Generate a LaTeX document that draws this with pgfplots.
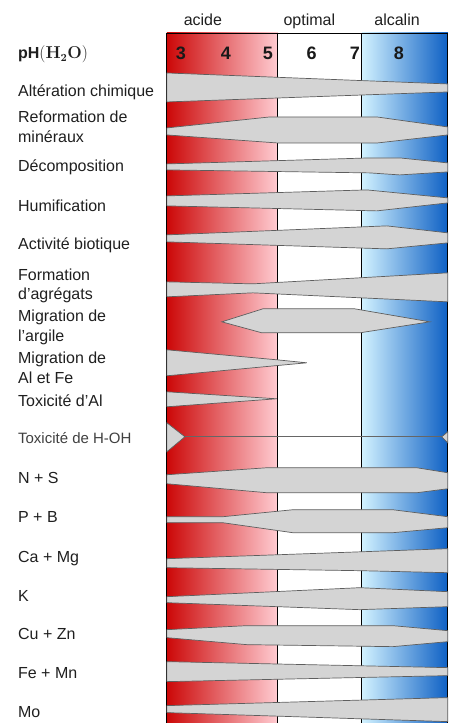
\documentclass[border=0pt]{standalone}
\usepackage{pgfplots}
\pgfplotsset{compat=1.18}
\usepackage[no-math]{fontspec}
\setmainfont{Liberation Sans}

\definecolor{acidedark}{HTML}{CC0808}
\definecolor{acidemid}{HTML}{FF5252}
\definecolor{acidelight}{HTML}{FFCCD2}
\definecolor{alcalight}{HTML}{D2F2FF}
\definecolor{alcamid}{HTML}{3CB8FF}
\definecolor{alcadark}{HTML}{0E60C4}
\definecolor{bande}{HTML}{D4D4D4}
\definecolor{bord}{HTML}{5E5E5E}

\begin{document}
\begin{tikzpicture}[
  lab/.style={font=\fontsize{16bp}{19bp}\selectfont, text=black!88, inner sep=0pt, anchor=base west},
  tete/.style={font=\fontsize{16bp}{19bp}\selectfont, text=black!88, inner sep=0pt, anchor=base},
  chiffre/.style={font=\fontsize{18bp}{20bp}\selectfont\bfseries, text=black!90, inner sep=0pt, anchor=base},
]
\begin{axis}[
  scale only axis,
  width=281bp, height=690bp,
  xmin=2.679, xmax=9.124,
  ymin=33, ymax=723,
  y dir=reverse,
  hide axis,
  clip=false,
  every axis plot/.append style={forget plot},
  bandes/.style={fill=bande, draw=bord, line width=0.7bp, mark=none},
  trait/.style={draw=black, fill=none, line width=0.8bp, mark=none},
]
% zones de pH (fond)
\addplot[draw=none, mark=none, left color=acidedark, middle color=acidemid, right color=acidelight]
  coordinates {(2.679,33) (5.225,33) (5.225,723) (2.679,723)} -- cycle;
\addplot[draw=none, mark=none, left color=alcalight, middle color=alcamid, right color=alcadark]
  coordinates {(7.151,33) (9.124,33) (9.124,723) (7.151,723)} -- cycle;

% cadre et limites des zones
\addplot[trait] coordinates {(2.679,723) (2.679,33) (9.124,33) (9.124,723)};
\addplot[trait] coordinates {(5.225,33) (5.225,723)};
\addplot[trait] coordinates {(7.151,33) (7.151,723)};

% Alteration chimique
\addplot[bandes] coordinates {(2.679,73) (9.124,84) (9.124,92) (2.679,102)} -- cycle;
% Reformation de mineraux
\addplot[bandes] coordinates {(2.679,128) (5.041,117) (7.495,117) (9.124,127) (9.124,135) (7.518,143) (5.202,143) (2.679,135)} -- cycle;
% Decomposition
\addplot[bandes] coordinates {(2.679,164) (7.335,158) (8.023,158) (9.124,163) (9.124,172) (8.023,175) (7.335,173) (2.679,170)} -- cycle;
% Humification
\addplot[bandes] coordinates {(2.679,196) (7.266,190) (9.124,198) (9.124,203) (7.495,211) (2.679,206)} -- cycle;
% Activite biotique
\addplot[bandes] coordinates {(2.679,235) (7.725,226) (9.124,233) (9.124,243) (7.725,249) (2.679,242)} -- cycle;
% Formation d'agregats
\addplot[bandes] coordinates {(2.679,282) (4.651,284) (9.124,273) (9.124,302) (4.651,293) (2.679,297)} -- cycle;
% Migration de l'argile
\addplot[bandes] coordinates {(3.940,322) (4.881,309) (6.991,309) (8.711,322) (7.106,333) (4.858,333)} -- cycle;
% Migration de Al et Fe
\addplot[bandes] coordinates {(2.679,350) (5.202,360) (5.890,363) (2.679,376)} -- cycle;
% Toxicite d'Al
\addplot[bandes] coordinates {(2.679,392) (5.202,399) (2.679,407)} -- cycle;
% Toxicite de H-OH
\addplot[draw=black!60, fill=none, line width=0.7bp, mark=none] coordinates {(3.092,437) (8.986,437)};
\addplot[bandes] coordinates {(2.679,423) (3.092,437) (2.679,452)} -- cycle;
\addplot[bandes] coordinates {(9.124,432) (8.986,437) (9.124,443)} -- cycle;
% N + S
\addplot[bandes] coordinates {(2.679,475) (4.972,468) (8.413,468) (9.124,473) (9.124,489) (8.413,493) (4.972,493) (2.679,484)} -- cycle;
% P + B
\addplot[bandes] coordinates {(2.679,517) (3.963,517) (5.569,510) (7.862,510) (9.124,517) (9.124,528) (7.862,533) (5.569,533) (3.963,523) (2.679,523)} -- cycle;
% Ca + Mg
\addplot[bandes] coordinates {(2.679,559) (9.124,549) (9.124,573) (7.106,571) (2.679,568)} -- cycle;
% K
\addplot[bandes] coordinates {(2.679,597) (7.106,588) (9.124,592) (9.124,607) (7.106,610) (2.679,603)} -- cycle;
% Cu + Zn
\addplot[bandes] coordinates {(2.679,630) (4.514,626) (7.862,626) (9.124,631) (9.124,642) (7.862,647) (4.514,645) (2.679,638)} -- cycle;
% Fe + Mn
\addplot[bandes] coordinates {(2.679,662) (9.124,668) (9.124,676) (2.679,682)} -- cycle;
% Mo
\addplot[bandes] coordinates {(2.679,706) (9.124,698) (9.124,722) (2.679,713)} -- cycle;

% en-tetes
\node[tete] at (axis cs:3.505,26) {acide};
\node[tete] at (axis cs:5.947,26) {optimal};
\node[tete] at (axis cs:7.961,26) {alcalin};
\node[chiffre] at (axis cs:3,60) {3};
\node[chiffre] at (axis cs:4.03,60) {4};
\node[chiffre] at (axis cs:4.995,60) {5};
\node[chiffre] at (axis cs:6,60) {6};
\node[chiffre] at (axis cs:6.99,60) {7};
\node[chiffre] at (axis cs:8,60) {8};

% libelles
\node[lab] at (axis cs:-0.739,59) {\textbf{pH}\fontsize{16bp}{18bp}\selectfont$\mathbf{(H_2O)}$};
\node[lab] at (axis cs:-0.739,96.5) {Altération chimique};
\node[lab] at (axis cs:-0.739,122.5) {Reformation de};
\node[lab] at (axis cs:-0.739,142.5) {minéraux};
\node[lab] at (axis cs:-0.739,172) {Décomposition};
\node[lab] at (axis cs:-0.739,212) {Humification};
\node[lab] at (axis cs:-0.739,250) {Activité biotique};
\node[lab] at (axis cs:-0.739,281) {Formation};
\node[lab] at (axis cs:-0.739,299.5) {d’agrégats};
\node[lab] at (axis cs:-0.739,322) {Migration de};
\node[lab] at (axis cs:-0.739,341.5) {l’argile};
\node[lab] at (axis cs:-0.739,364) {Migration de};
\node[lab] at (axis cs:-0.739,384) {Al et Fe};
\node[lab] at (axis cs:-0.739,406.5) {Toxicité d’Al};
\node[lab, font=\fontsize{15bp}{18bp}\selectfont, text=black!75] at (axis cs:-0.739,444) {Toxicité de H-OH};
\node[lab] at (axis cs:-0.739,484) {N + S};
\node[lab] at (axis cs:-0.739,523) {P + B};
\node[lab] at (axis cs:-0.739,562.5) {Ca + Mg};
\node[lab] at (axis cs:-0.739,601.5) {K};
\node[lab] at (axis cs:-0.739,640) {Cu + Zn};
\node[lab] at (axis cs:-0.739,678.5) {Fe + Mn};
\node[lab] at (axis cs:-0.739,718) {Mo};

% cadre de l'image
\path (axis cs:-1.151,0) rectangle (axis cs:9.261,723);
\end{axis}
\end{tikzpicture}
\end{document}
